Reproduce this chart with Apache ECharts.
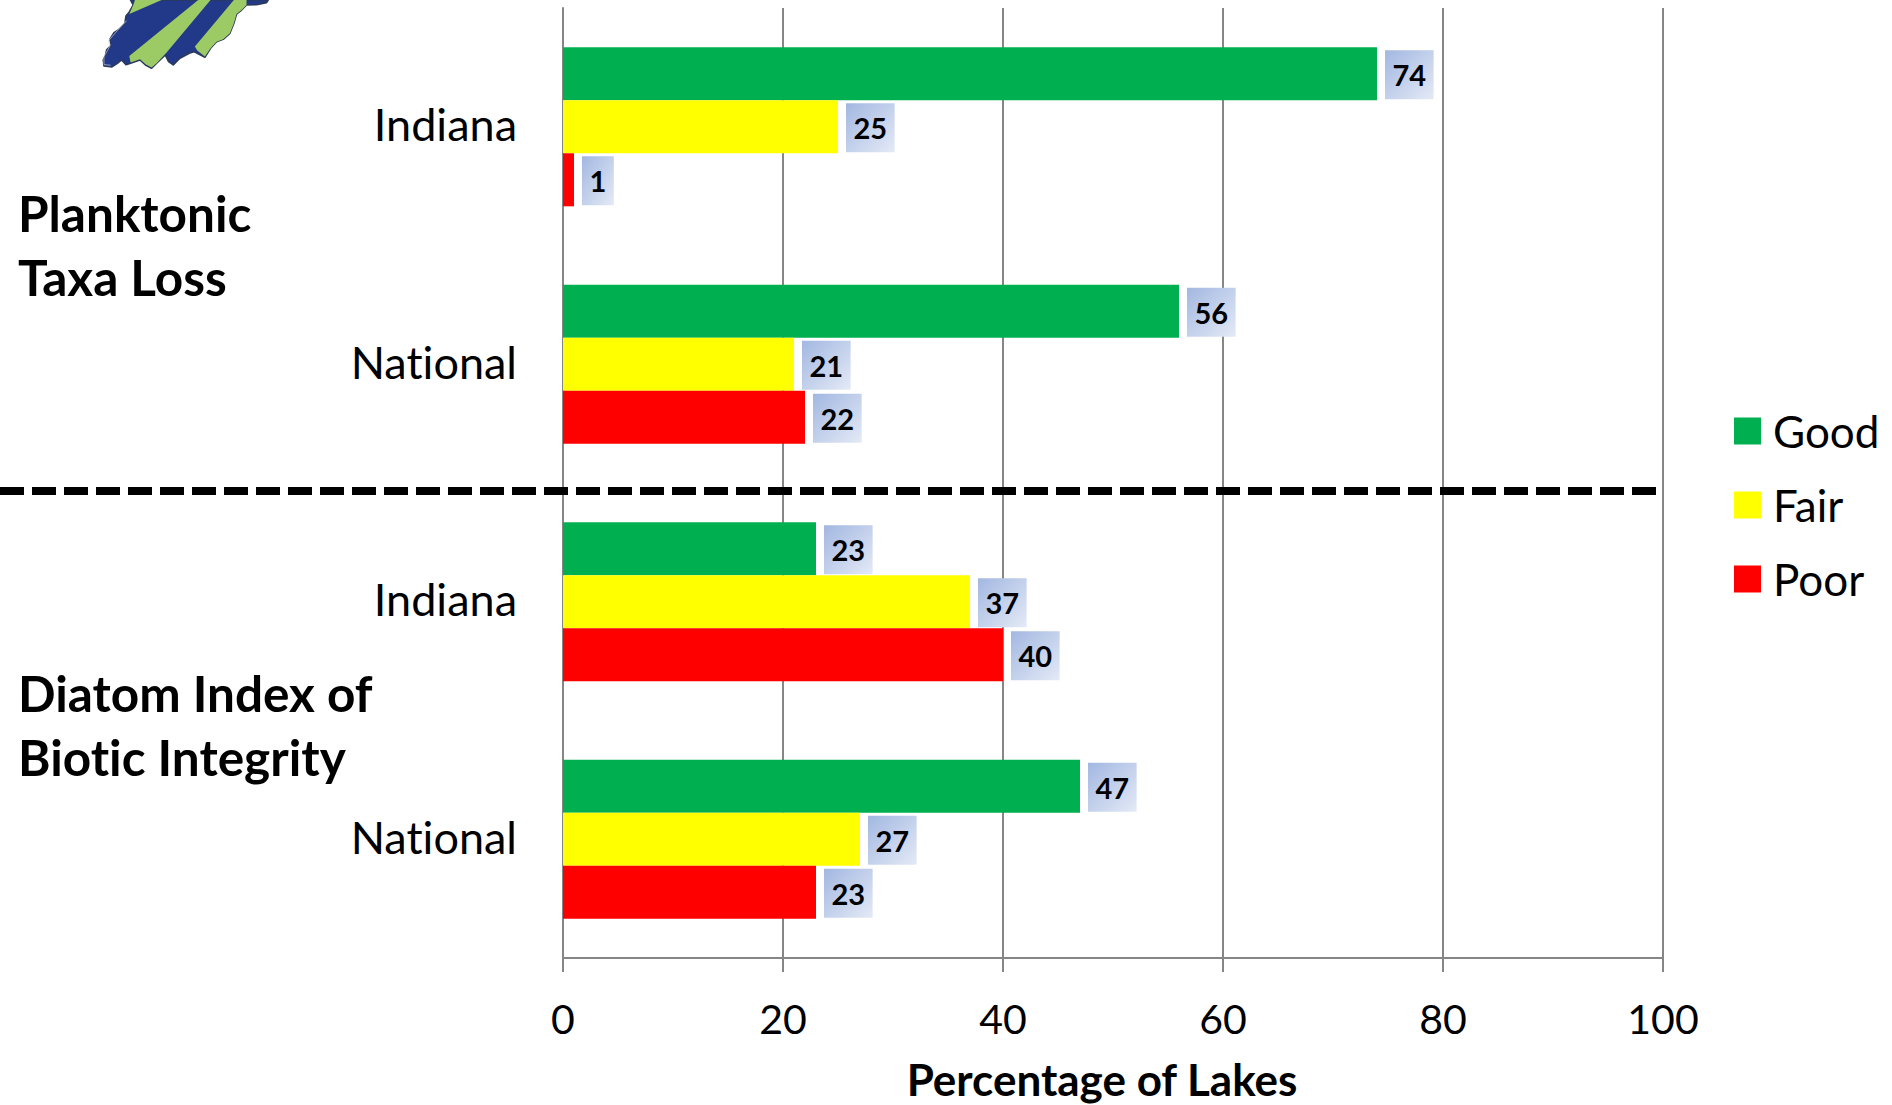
<!DOCTYPE html>
<html>
<head>
<meta charset="utf-8">
<style>html,body{margin:0;padding:0;background:#fff}#chart{width:1892px;height:1105px}#chart text{font-variant-ligatures:none !important}</style>
<script src="https://cdn.jsdelivr.net/npm/echarts@6/dist/echarts.min.js"></script>
</head>
<body>
<div id="chart"></div>
<script>
// Lake condition by indicator, Indiana against the national survey
const categories = ['Indiana', 'National', 'Indiana', 'National'];
const good = [74, 56, 23, 47];
const fair = [25, 21, 37, 27];
const poor = [1, 22, 40, 23];
const xTicks = [0, 20, 40, 60, 80, 100];
const indicatorLines = [
  { text: 'Planktonic', y: 213 },
  { text: 'Taxa Loss', y: 277 },
  { text: 'Diatom Index of', y: 693 },
  { text: 'Biotic Integrity', y: 757 }
];

const FONT = 'Lato';
const AXIS_GREY = '#868686';

// State outline and its wedges, in a 3x local coordinate space
const stateOutline = [[122,0],[130,15],[118,36],[108,48],[105,70],[85,90],[72,98],[60,118],[64,136],[50,150],[46,168],[40,180],[42,198],[66,201],[82,190],[95,180],[108,194],[122,190],[150,180],[168,196],[185,205],[200,190],[226,165],[236,185],[250,195],[270,175],[298,160],[312,155],[345,172],[362,145],[380,125],[400,118],[420,100],[432,70],[440,42],[455,30],[470,15],[500,14],[530,8],[535,0]];
const wedgeA = [[118,42],[215,0],[135,0],[130,15]];
const wedgeB = [[118,168],[325,0],[362,0],[230,158],[200,190],[185,203],[168,194],[150,178],[122,188]];
const wedgeC = [[315,140],[432,0],[470,0],[470,15],[455,30],[440,42],[432,70],[420,100],[400,118],[380,125],[362,145],[345,170],[322,152]];
const coastEdge = [[110,62],[82,92],[56,122],[60,138],[42,170],[42,194],[62,196]];

const labelBackground = {
  type: 'linear', x: 0, y: 0, x2: 1, y2: 1,
  colorStops: [{ offset: 0, color: '#A2B7E1' }, { offset: 1, color: '#E4EAF6' }]
};

function barSeries(name, values, color) {
  return {
    name, type: 'bar', data: values, barGap: 0, barCategoryGap: '33%',
    itemStyle: { color },
    label: {
      show: true, position: 'right', distance: 8, offset: [0, 1], color: '#000',
      fontFamily: FONT, fontWeight: 'bold', fontSize: 29, lineHeight: 27,
      padding: [11, 7.5, 11, 7.5], backgroundColor: labelBackground
    }
  };
}

const chart = echarts.init(document.getElementById('chart'), null, { renderer: 'svg' });
chart.setOption({
  animation: false,
  backgroundColor: '#fff',
  grid: { left: 563, right: 229, top: 8, bottom: 147, containLabel: false, outerBoundsMode: 'none' },
  xAxis: {
    type: 'value', position: 'bottom', min: xTicks[0], max: xTicks[xTicks.length - 1], interval: 20,
    axisLine: { show: true, lineStyle: { color: AXIS_GREY, width: 2 } },
    axisTick: { show: true, length: 14, lineStyle: { color: AXIS_GREY, width: 2 } },
    splitLine: { show: true, lineStyle: { color: AXIS_GREY, width: 2 } },
    axisLabel: { color: '#000', fontFamily: FONT, fontSize: 41, margin: 40 },
    name: 'Percentage of Lakes', nameLocation: 'middle', nameGap: 99,
    nameTextStyle: { color: '#000', fontFamily: FONT, fontWeight: 'bold', fontSize: 44, padding: [0, 22, 0, 0] }
  },
  yAxis: {
    type: 'category', inverse: true, data: categories,
    axisLine: { show: true, lineStyle: { color: AXIS_GREY, width: 2 } },
    axisTick: { show: false },
    axisLabel: {
      margin: 46,
      formatter: '{cat|{value}}',
      rich: { cat: { color: '#000', fontFamily: FONT, fontSize: 45, padding: [0, 0, 5, 0] } }
    }
  },
  legend: {
    orient: 'vertical', left: 1729, top: 404, itemWidth: 27, itemHeight: 27, itemGap: 30,
    icon: 'rect', data: ['Good', 'Fair', 'Poor'],
    textStyle: { color: '#000', fontFamily: FONT, fontSize: 44, padding: [0, 0, 4, 7] }
  },
  series: [
    barSeries('Good', good, '#00B050'),
    barSeries('Fair', fair, '#FFFF00'),
    barSeries('Poor', poor, '#FF0000')
  ],
  graphic: [
    {
      type: 'line', z: 5, silent: true,
      shape: { x1: 0, y1: 491, x2: 1657, y2: 491 },
      style: { stroke: '#000', lineWidth: 8, lineDash: [24, 8] }
    },
    ...indicatorLines.map(l => ({
      type: 'text', z: 5, silent: true, x: 18, y: l.y,
      style: { text: l.text, fill: '#000', font: 'bold 49.5px ' + FONT, verticalAlign: 'middle' }
    })),
    {
      type: 'group', x: 90, y: 0, scaleX: 1 / 3, scaleY: 1 / 3, silent: true,
      children: [
        { type: 'polygon', shape: { points: stateOutline }, style: { fill: '#22398A', stroke: '#2B3A5C', lineWidth: 5, lineJoin: 'round' } },
        { type: 'polygon', shape: { points: wedgeA }, style: { fill: '#9CCB65' } },
        { type: 'polygon', shape: { points: wedgeB }, style: { fill: '#9CCB65' } },
        { type: 'polygon', shape: { points: wedgeC }, style: { fill: '#9CCB65' } },
        { type: 'polyline', shape: { points: coastEdge }, style: { stroke: '#C6CDE8', lineWidth: 2, fill: null } }
      ]
    }
  ]
});
</script>
</body>
</html>
